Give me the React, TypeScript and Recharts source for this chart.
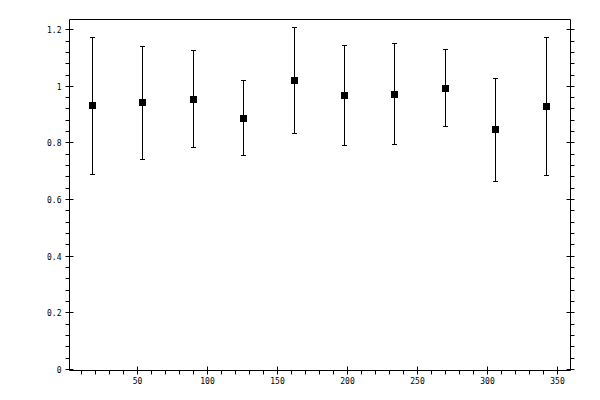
import React from "react";
import { ComposedChart, Scatter, ErrorBar, XAxis, YAxis } from "recharts";

const xValues = [18, 54, 90, 126, 162, 198, 234, 270, 306, 342];
const yValues = [0.932, 0.942, 0.955, 0.886, 1.02, 0.967, 0.971, 0.992, 0.847, 0.928];
const yLow = [0.688, 0.741, 0.784, 0.755, 0.833, 0.79, 0.794, 0.858, 0.663, 0.686];
const yHigh = [1.171, 1.14, 1.126, 1.02, 1.207, 1.144, 1.151, 1.13, 1.027, 1.172];

const xTicks = [10, 20, 30, 40, 50, 60, 70, 80, 90, 100, 110, 120, 130, 140, 150, 160, 170, 180, 190, 200, 210, 220, 230, 240, 250, 260, 270, 280, 290, 300, 310, 320, 330, 340, 350];
const xMajor = [50, 100, 150, 200, 250, 300, 350];
const yTicks = [0, 0.04, 0.08, 0.12, 0.16, 0.2, 0.24, 0.28, 0.32, 0.36, 0.4, 0.44, 0.48, 0.52, 0.56, 0.6, 0.64, 0.68, 0.72, 0.76, 0.8, 0.84, 0.88, 0.92, 0.96, 1, 1.04, 1.08, 1.12, 1.16, 1.2];
const yMajor = [0, 0.2, 0.4, 0.6, 0.8, 1, 1.2];
const yMajorLabels = ["0", "0.2", "0.4", "0.6", "0.8", "1", "1.2"];

const xDomain = [1.5, 359.5];
const yDomain = [-0.0035, 1.236];

const data = xValues.map((x, i) => ({
  x,
  y: yValues[i],
  err: [yValues[i] - yLow[i], yHigh[i] - yValues[i]],
}));

const FONT = "'DejaVu Sans Mono', monospace";

const isMajorY = (v: number) => yMajor.some((m) => Math.abs(m - v) < 1e-6);
const isMajorX = (v: number) => xMajor.includes(v);
const snap = (v: number) => Math.floor(v) + 0.5;

const BottomTick = (props: any) => {
  const { x, y, payload } = props;
  const px = snap(x);
  const major = isMajorX(payload.value);
  return (
    <g>
      <line x1={px} x2={px} y1={major ? y - 4 : y} y2={y + 4} stroke="#000" strokeWidth={1} />
      {major && (
        <text x={px} y={y + 13} textAnchor="middle" fontFamily={FONT} fontSize={8} fill="#000">
          {payload.value}
        </text>
      )}
    </g>
  );
};

const TopTick = (props: any) => {
  const { x, y, payload } = props;
  const px = snap(x);
  const major = isMajorX(payload.value);
  return <line x1={px} x2={px} y1={y - 4} y2={major ? y + 4 : y} stroke="#000" strokeWidth={1} />;
};

const LeftTick = (props: any) => {
  const { x, y, payload } = props;
  const py = snap(y);
  const major = isMajorY(payload.value);
  const idx = yMajor.findIndex((m) => Math.abs(m - payload.value) < 1e-6);
  return (
    <g>
      <line x1={x - 4} x2={major ? x + 4 : x} y1={py} y2={py} stroke="#000" strokeWidth={1} />
      {major && (
        <text x={x - 8} y={py + 3} textAnchor="end" fontFamily={FONT} fontSize={8} fill="#000">
          {yMajorLabels[idx]}
        </text>
      )}
    </g>
  );
};

const RightTick = (props: any) => {
  const { x, y, payload } = props;
  const py = snap(y);
  const major = isMajorY(payload.value);
  return <line x1={major ? x - 4 : x} x2={x + 4} y1={py} y2={py} stroke="#000" strokeWidth={1} />;
};

const SquareShape = (props: any) => {
  const { cx, cy } = props;
  return <rect x={Math.floor(cx) - 3} y={Math.floor(cy) - 3} width={7} height={7} fill="#000" shapeRendering="crispEdges" />;
};

export default function App() {
  return (
    <div style={{ position: "absolute", left: 0, top: 0, width: 600, height: 400, background: "#fff" }}>
      <ComposedChart width={600} height={400} data={data} margin={{ top: 0, right: 0, bottom: 0, left: 0 }}>
        <XAxis
          xAxisId="bottom"
          type="number"
          dataKey="x"
          orientation="bottom"
          domain={xDomain}
          allowDataOverflow
          ticks={xTicks}
          interval={0}
          height={29.5}
          tickSize={0}
          tickMargin={0}
          tickLine={false}
          axisLine={{ stroke: "#000", strokeWidth: 1 }}
          tick={<BottomTick />}
        />
        <XAxis
          xAxisId="top"
          type="number"
          orientation="top"
          domain={xDomain}
          allowDataOverflow
          ticks={xTicks}
          interval={0}
          height={19.5}
          tickSize={0}
          tickMargin={0}
          tickLine={false}
          axisLine={{ stroke: "#000", strokeWidth: 1 }}
          tick={<TopTick />}
        />
        <YAxis
          yAxisId="left"
          type="number"
          orientation="left"
          domain={yDomain}
          allowDataOverflow
          ticks={yTicks}
          interval={0}
          width={69.5}
          tickSize={0}
          tickMargin={0}
          tickLine={false}
          axisLine={{ stroke: "#000", strokeWidth: 1 }}
          tick={<LeftTick />}
        />
        <YAxis
          yAxisId="right"
          type="number"
          orientation="right"
          domain={yDomain}
          allowDataOverflow
          ticks={yTicks}
          interval={0}
          width={29.5}
          tickSize={0}
          tickMargin={0}
          tickLine={false}
          axisLine={{ stroke: "#000", strokeWidth: 1 }}
          tick={<RightTick />}
        />
        <Scatter
          xAxisId="bottom"
          yAxisId="left"
          dataKey="y"
          fill="#000"
          shape={<SquareShape />}
          isAnimationActive={false}
        >
          <ErrorBar
            dataKey="err"
            direction="y"
            width={2.5}
            stroke="#000"
            strokeWidth={1}
            shapeRendering="crispEdges"
            isAnimationActive={false}
          />
        </Scatter>
      </ComposedChart>
    </div>
  );
}
